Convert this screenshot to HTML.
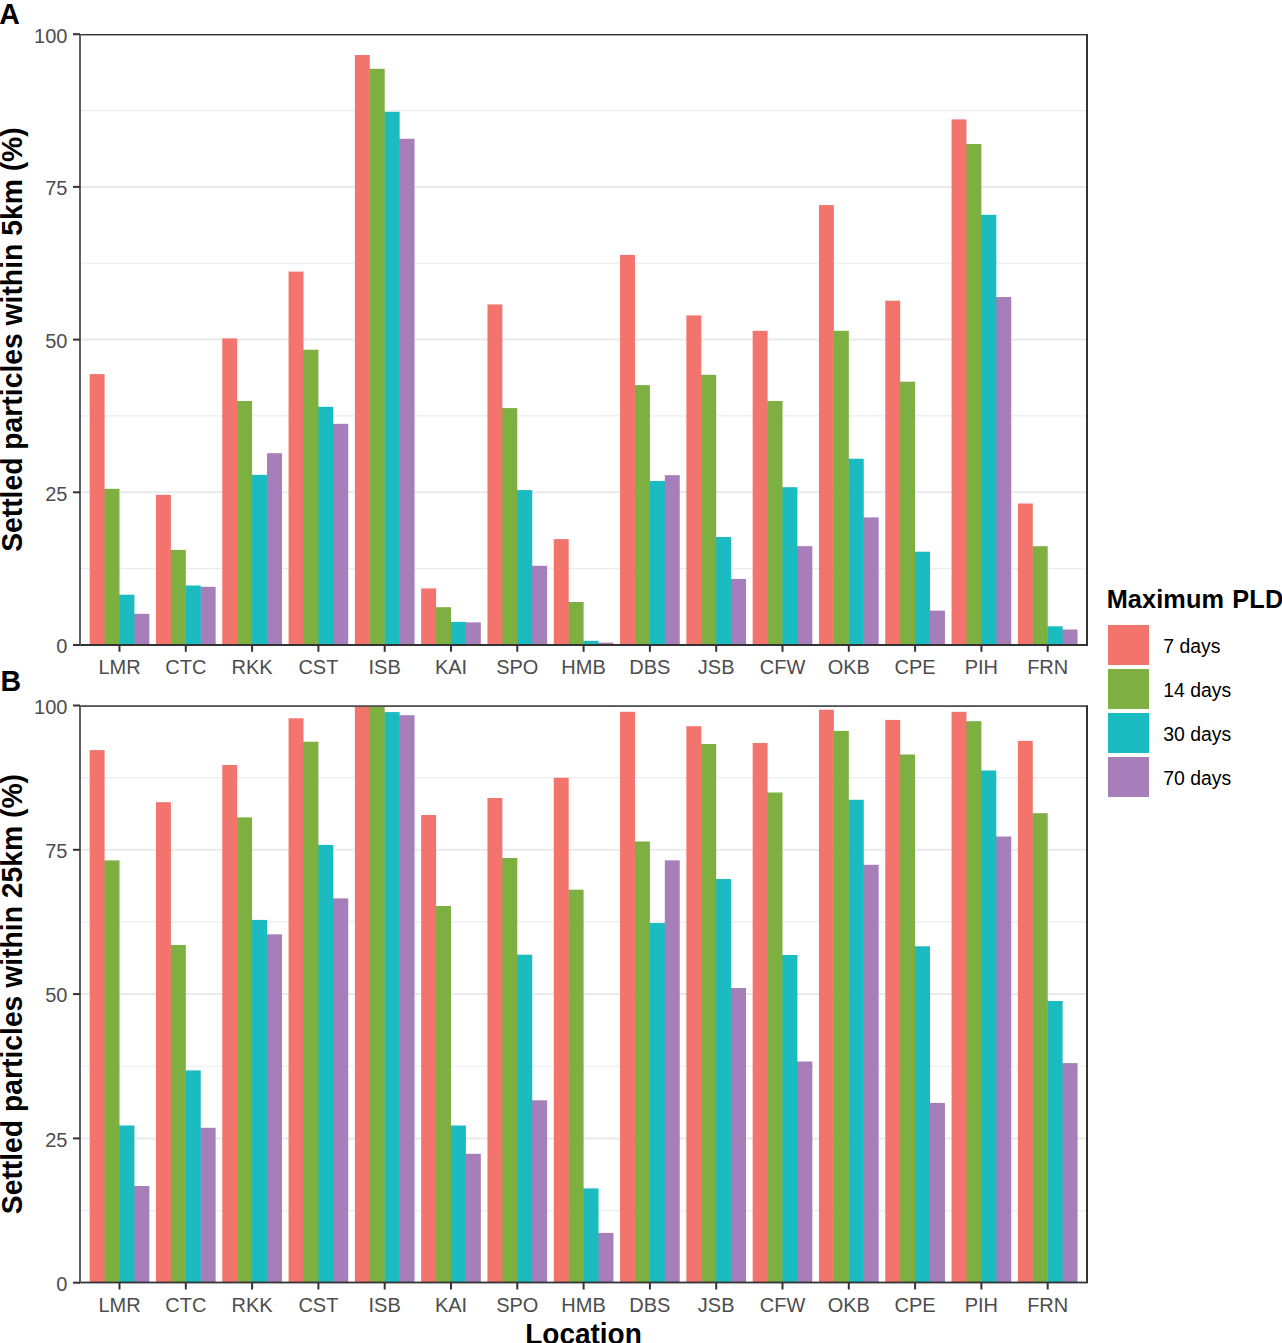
<!DOCTYPE html><html><head><meta charset="utf-8"><style>html,body{margin:0;padding:0;background:#fff;width:1282px;height:1343px;overflow:hidden}svg{display:block}text{font-family:"Liberation Sans",sans-serif}</style></head><body>
<svg width="1282" height="1343" viewBox="0 0 1282 1343">
<rect x="0" y="0" width="1282" height="1343" fill="#fff"/>
<line x1="80.0" x2="1087.0" y1="568.65" y2="568.65" stroke="#EBECED" stroke-width="1.2"/>
<line x1="80.0" x2="1087.0" y1="415.95" y2="415.95" stroke="#EBECED" stroke-width="1.2"/>
<line x1="80.0" x2="1087.0" y1="263.25" y2="263.25" stroke="#EBECED" stroke-width="1.2"/>
<line x1="80.0" x2="1087.0" y1="110.55" y2="110.55" stroke="#EBECED" stroke-width="1.2"/>
<line x1="80.0" x2="1087.0" y1="492.30" y2="492.30" stroke="#E8EAEB" stroke-width="2"/>
<line x1="80.0" x2="1087.0" y1="339.60" y2="339.60" stroke="#E8EAEB" stroke-width="2"/>
<line x1="80.0" x2="1087.0" y1="186.90" y2="186.90" stroke="#E8EAEB" stroke-width="2"/>
<rect x="133.92" y="613.80" width="15.42" height="31.20" fill="#A67EBA"/>
<rect x="119.00" y="594.70" width="15.42" height="50.30" fill="#1ABBC1"/>
<rect x="104.08" y="488.80" width="15.42" height="156.20" fill="#7EAF41"/>
<rect x="89.66" y="374.10" width="14.92" height="270.90" fill="#F3746D"/>
<rect x="200.22" y="586.80" width="15.42" height="58.20" fill="#A67EBA"/>
<rect x="185.30" y="585.50" width="15.42" height="59.50" fill="#1ABBC1"/>
<rect x="170.38" y="549.90" width="15.42" height="95.10" fill="#7EAF41"/>
<rect x="155.97" y="494.80" width="14.92" height="150.20" fill="#F3746D"/>
<rect x="251.60" y="474.90" width="15.92" height="170.10" fill="#1ABBC1"/>
<rect x="267.02" y="453.20" width="14.92" height="191.80" fill="#A67EBA"/>
<rect x="236.68" y="401.00" width="15.42" height="244.00" fill="#7EAF41"/>
<rect x="222.26" y="338.40" width="14.92" height="306.60" fill="#F3746D"/>
<rect x="332.82" y="423.80" width="15.42" height="221.20" fill="#A67EBA"/>
<rect x="317.90" y="406.80" width="15.42" height="238.20" fill="#1ABBC1"/>
<rect x="302.98" y="349.70" width="15.42" height="295.30" fill="#7EAF41"/>
<rect x="288.56" y="271.60" width="14.92" height="373.40" fill="#F3746D"/>
<rect x="399.12" y="138.80" width="15.42" height="506.20" fill="#A67EBA"/>
<rect x="384.20" y="111.80" width="15.42" height="533.20" fill="#1ABBC1"/>
<rect x="369.28" y="68.80" width="15.42" height="576.20" fill="#7EAF41"/>
<rect x="354.87" y="55.00" width="14.92" height="590.00" fill="#F3746D"/>
<rect x="465.42" y="622.40" width="15.42" height="22.60" fill="#A67EBA"/>
<rect x="450.50" y="621.90" width="15.42" height="23.10" fill="#1ABBC1"/>
<rect x="435.58" y="607.20" width="15.42" height="37.80" fill="#7EAF41"/>
<rect x="421.17" y="588.40" width="14.92" height="56.60" fill="#F3746D"/>
<rect x="531.72" y="565.80" width="15.42" height="79.20" fill="#A67EBA"/>
<rect x="516.80" y="490.10" width="15.42" height="154.90" fill="#1ABBC1"/>
<rect x="501.88" y="408.10" width="15.42" height="236.90" fill="#7EAF41"/>
<rect x="487.46" y="304.40" width="14.92" height="340.60" fill="#F3746D"/>
<rect x="598.02" y="642.60" width="15.42" height="2.40" fill="#A67EBA"/>
<rect x="583.10" y="640.80" width="15.42" height="4.20" fill="#1ABBC1"/>
<rect x="568.18" y="602.00" width="15.42" height="43.00" fill="#7EAF41"/>
<rect x="553.76" y="539.10" width="14.92" height="105.90" fill="#F3746D"/>
<rect x="649.40" y="481.00" width="15.92" height="164.00" fill="#1ABBC1"/>
<rect x="664.82" y="475.20" width="14.92" height="169.80" fill="#A67EBA"/>
<rect x="634.48" y="385.10" width="15.42" height="259.90" fill="#7EAF41"/>
<rect x="620.06" y="254.90" width="14.92" height="390.10" fill="#F3746D"/>
<rect x="730.62" y="578.90" width="15.42" height="66.10" fill="#A67EBA"/>
<rect x="715.70" y="537.00" width="15.42" height="108.00" fill="#1ABBC1"/>
<rect x="700.78" y="374.80" width="15.42" height="270.20" fill="#7EAF41"/>
<rect x="686.36" y="315.40" width="14.92" height="329.60" fill="#F3746D"/>
<rect x="796.92" y="546.20" width="15.42" height="98.80" fill="#A67EBA"/>
<rect x="782.00" y="487.20" width="15.42" height="157.80" fill="#1ABBC1"/>
<rect x="767.08" y="401.00" width="15.42" height="244.00" fill="#7EAF41"/>
<rect x="752.66" y="330.80" width="14.92" height="314.20" fill="#F3746D"/>
<rect x="863.22" y="517.40" width="15.42" height="127.60" fill="#A67EBA"/>
<rect x="848.30" y="458.70" width="15.42" height="186.30" fill="#1ABBC1"/>
<rect x="833.38" y="330.80" width="15.42" height="314.20" fill="#7EAF41"/>
<rect x="818.96" y="205.10" width="14.92" height="439.90" fill="#F3746D"/>
<rect x="929.52" y="610.60" width="15.42" height="34.40" fill="#A67EBA"/>
<rect x="914.60" y="551.70" width="15.42" height="93.30" fill="#1ABBC1"/>
<rect x="899.68" y="381.70" width="15.42" height="263.30" fill="#7EAF41"/>
<rect x="885.26" y="300.70" width="14.92" height="344.30" fill="#F3746D"/>
<rect x="995.82" y="297.00" width="15.42" height="348.00" fill="#A67EBA"/>
<rect x="980.90" y="214.80" width="15.42" height="430.20" fill="#1ABBC1"/>
<rect x="965.98" y="144.00" width="15.42" height="501.00" fill="#7EAF41"/>
<rect x="951.56" y="119.40" width="14.92" height="525.60" fill="#F3746D"/>
<rect x="1062.12" y="629.50" width="15.42" height="15.50" fill="#A67EBA"/>
<rect x="1047.20" y="626.30" width="15.42" height="18.70" fill="#1ABBC1"/>
<rect x="1032.28" y="546.20" width="15.42" height="98.80" fill="#7EAF41"/>
<rect x="1017.86" y="503.50" width="14.92" height="141.50" fill="#F3746D"/>
<rect x="79" y="34" width="1009" height="1.4" fill="#333"/>
<rect x="79" y="644" width="1009" height="2" fill="#333"/>
<rect x="79" y="34.2" width="2" height="610.80" fill="#606060"/>
<rect x="1086" y="34.2" width="2" height="610.80" fill="#333"/>
<line x1="73" x2="80.0" y1="645.00" y2="645.00" stroke="#333333" stroke-width="2"/>
<text x="67.4" y="653.30" font-size="20" fill="#4D4D4D" text-anchor="end">0</text>
<line x1="73" x2="80.0" y1="492.30" y2="492.30" stroke="#333333" stroke-width="2"/>
<text x="67.4" y="500.60" font-size="20" fill="#4D4D4D" text-anchor="end">25</text>
<line x1="73" x2="80.0" y1="339.60" y2="339.60" stroke="#333333" stroke-width="2"/>
<text x="67.4" y="347.90" font-size="20" fill="#4D4D4D" text-anchor="end">50</text>
<line x1="73" x2="80.0" y1="186.90" y2="186.90" stroke="#333333" stroke-width="2"/>
<text x="67.4" y="195.20" font-size="20" fill="#4D4D4D" text-anchor="end">75</text>
<line x1="73" x2="80.0" y1="34.20" y2="34.20" stroke="#333333" stroke-width="2"/>
<text x="67.4" y="42.50" font-size="20" fill="#4D4D4D" text-anchor="end">100</text>
<line x1="119.50" x2="119.50" y1="645.0" y2="651.80" stroke="#333333" stroke-width="2"/>
<text x="119.50" y="674.00" font-size="20" fill="#4D4D4D" text-anchor="middle">LMR</text>
<line x1="185.80" x2="185.80" y1="645.0" y2="651.80" stroke="#333333" stroke-width="2"/>
<text x="185.80" y="674.00" font-size="20" fill="#4D4D4D" text-anchor="middle">CTC</text>
<line x1="252.10" x2="252.10" y1="645.0" y2="651.80" stroke="#333333" stroke-width="2"/>
<text x="252.10" y="674.00" font-size="20" fill="#4D4D4D" text-anchor="middle">RKK</text>
<line x1="318.40" x2="318.40" y1="645.0" y2="651.80" stroke="#333333" stroke-width="2"/>
<text x="318.40" y="674.00" font-size="20" fill="#4D4D4D" text-anchor="middle">CST</text>
<line x1="384.70" x2="384.70" y1="645.0" y2="651.80" stroke="#333333" stroke-width="2"/>
<text x="384.70" y="674.00" font-size="20" fill="#4D4D4D" text-anchor="middle">ISB</text>
<line x1="451.00" x2="451.00" y1="645.0" y2="651.80" stroke="#333333" stroke-width="2"/>
<text x="451.00" y="674.00" font-size="20" fill="#4D4D4D" text-anchor="middle">KAI</text>
<line x1="517.30" x2="517.30" y1="645.0" y2="651.80" stroke="#333333" stroke-width="2"/>
<text x="517.30" y="674.00" font-size="20" fill="#4D4D4D" text-anchor="middle">SPO</text>
<line x1="583.60" x2="583.60" y1="645.0" y2="651.80" stroke="#333333" stroke-width="2"/>
<text x="583.60" y="674.00" font-size="20" fill="#4D4D4D" text-anchor="middle">HMB</text>
<line x1="649.90" x2="649.90" y1="645.0" y2="651.80" stroke="#333333" stroke-width="2"/>
<text x="649.90" y="674.00" font-size="20" fill="#4D4D4D" text-anchor="middle">DBS</text>
<line x1="716.20" x2="716.20" y1="645.0" y2="651.80" stroke="#333333" stroke-width="2"/>
<text x="716.20" y="674.00" font-size="20" fill="#4D4D4D" text-anchor="middle">JSB</text>
<line x1="782.50" x2="782.50" y1="645.0" y2="651.80" stroke="#333333" stroke-width="2"/>
<text x="782.50" y="674.00" font-size="20" fill="#4D4D4D" text-anchor="middle">CFW</text>
<line x1="848.80" x2="848.80" y1="645.0" y2="651.80" stroke="#333333" stroke-width="2"/>
<text x="848.80" y="674.00" font-size="20" fill="#4D4D4D" text-anchor="middle">OKB</text>
<line x1="915.10" x2="915.10" y1="645.0" y2="651.80" stroke="#333333" stroke-width="2"/>
<text x="915.10" y="674.00" font-size="20" fill="#4D4D4D" text-anchor="middle">CPE</text>
<line x1="981.40" x2="981.40" y1="645.0" y2="651.80" stroke="#333333" stroke-width="2"/>
<text x="981.40" y="674.00" font-size="20" fill="#4D4D4D" text-anchor="middle">PIH</text>
<line x1="1047.70" x2="1047.70" y1="645.0" y2="651.80" stroke="#333333" stroke-width="2"/>
<text x="1047.70" y="674.00" font-size="20" fill="#4D4D4D" text-anchor="middle">FRN</text>
<text transform="translate(21.6,339.60) rotate(-90) scale(1,1.02)" font-size="28.3" font-weight="bold" fill="#000" text-anchor="middle">Settled particles within 5km (%)</text>
<text transform="translate(-0.8,24.1) scale(1,1.04)" font-size="28.5" font-weight="bold" fill="#000">A</text>
<line x1="80.0" x2="1087.0" y1="1210.55" y2="1210.55" stroke="#EBECED" stroke-width="1.2"/>
<line x1="80.0" x2="1087.0" y1="1066.25" y2="1066.25" stroke="#EBECED" stroke-width="1.2"/>
<line x1="80.0" x2="1087.0" y1="921.95" y2="921.95" stroke="#EBECED" stroke-width="1.2"/>
<line x1="80.0" x2="1087.0" y1="777.65" y2="777.65" stroke="#EBECED" stroke-width="1.2"/>
<line x1="80.0" x2="1087.0" y1="1138.40" y2="1138.40" stroke="#E8EAEB" stroke-width="2"/>
<line x1="80.0" x2="1087.0" y1="994.10" y2="994.10" stroke="#E8EAEB" stroke-width="2"/>
<line x1="80.0" x2="1087.0" y1="849.80" y2="849.80" stroke="#E8EAEB" stroke-width="2"/>
<rect x="133.92" y="1186.00" width="15.42" height="96.70" fill="#A67EBA"/>
<rect x="119.00" y="1125.50" width="15.42" height="157.20" fill="#1ABBC1"/>
<rect x="104.08" y="860.40" width="15.42" height="422.30" fill="#7EAF41"/>
<rect x="89.66" y="750.10" width="14.92" height="532.60" fill="#F3746D"/>
<rect x="200.22" y="1127.80" width="15.42" height="154.90" fill="#A67EBA"/>
<rect x="185.30" y="1070.40" width="15.42" height="212.30" fill="#1ABBC1"/>
<rect x="170.38" y="945.00" width="15.42" height="337.70" fill="#7EAF41"/>
<rect x="155.97" y="802.20" width="14.92" height="480.50" fill="#F3746D"/>
<rect x="266.52" y="934.30" width="15.42" height="348.40" fill="#A67EBA"/>
<rect x="251.60" y="919.90" width="15.42" height="362.80" fill="#1ABBC1"/>
<rect x="236.68" y="817.40" width="15.42" height="465.30" fill="#7EAF41"/>
<rect x="222.26" y="765.00" width="14.92" height="517.70" fill="#F3746D"/>
<rect x="332.82" y="898.40" width="15.42" height="384.30" fill="#A67EBA"/>
<rect x="317.90" y="844.90" width="15.42" height="437.80" fill="#1ABBC1"/>
<rect x="302.98" y="741.70" width="15.42" height="541.00" fill="#7EAF41"/>
<rect x="288.56" y="718.30" width="14.92" height="564.40" fill="#F3746D"/>
<rect x="399.12" y="715.20" width="15.42" height="567.50" fill="#A67EBA"/>
<rect x="384.20" y="712.10" width="15.42" height="570.60" fill="#1ABBC1"/>
<rect x="354.87" y="706.60" width="15.42" height="576.10" fill="#F3746D"/>
<rect x="369.28" y="706.60" width="15.42" height="576.10" fill="#7EAF41"/>
<rect x="465.42" y="1153.80" width="15.42" height="128.90" fill="#A67EBA"/>
<rect x="450.50" y="1125.50" width="15.42" height="157.20" fill="#1ABBC1"/>
<rect x="435.58" y="906.00" width="15.42" height="376.70" fill="#7EAF41"/>
<rect x="421.17" y="815.00" width="14.92" height="467.70" fill="#F3746D"/>
<rect x="531.72" y="1100.30" width="15.42" height="182.40" fill="#A67EBA"/>
<rect x="516.80" y="954.70" width="15.42" height="328.00" fill="#1ABBC1"/>
<rect x="501.88" y="858.00" width="15.42" height="424.70" fill="#7EAF41"/>
<rect x="487.46" y="798.00" width="14.92" height="484.70" fill="#F3746D"/>
<rect x="598.02" y="1232.90" width="15.42" height="49.80" fill="#A67EBA"/>
<rect x="583.10" y="1188.40" width="15.42" height="94.30" fill="#1ABBC1"/>
<rect x="568.18" y="889.70" width="15.42" height="393.00" fill="#7EAF41"/>
<rect x="553.76" y="777.80" width="14.92" height="504.90" fill="#F3746D"/>
<rect x="649.40" y="923.00" width="15.92" height="359.70" fill="#1ABBC1"/>
<rect x="664.82" y="860.40" width="14.92" height="422.30" fill="#A67EBA"/>
<rect x="634.48" y="841.50" width="15.42" height="441.20" fill="#7EAF41"/>
<rect x="620.06" y="711.80" width="14.92" height="570.90" fill="#F3746D"/>
<rect x="730.62" y="988.00" width="15.42" height="294.70" fill="#A67EBA"/>
<rect x="715.70" y="879.00" width="15.42" height="403.70" fill="#1ABBC1"/>
<rect x="700.78" y="744.00" width="15.42" height="538.70" fill="#7EAF41"/>
<rect x="686.36" y="726.20" width="14.92" height="556.50" fill="#F3746D"/>
<rect x="796.92" y="1061.50" width="15.42" height="221.20" fill="#A67EBA"/>
<rect x="782.00" y="955.00" width="15.42" height="327.70" fill="#1ABBC1"/>
<rect x="767.08" y="792.50" width="15.42" height="490.20" fill="#7EAF41"/>
<rect x="752.66" y="743.00" width="14.92" height="539.70" fill="#F3746D"/>
<rect x="863.22" y="864.80" width="15.42" height="417.90" fill="#A67EBA"/>
<rect x="848.30" y="799.80" width="15.42" height="482.90" fill="#1ABBC1"/>
<rect x="833.38" y="730.90" width="15.42" height="551.80" fill="#7EAF41"/>
<rect x="818.96" y="709.70" width="14.92" height="573.00" fill="#F3746D"/>
<rect x="929.52" y="1102.90" width="15.42" height="179.80" fill="#A67EBA"/>
<rect x="914.60" y="946.30" width="15.42" height="336.40" fill="#1ABBC1"/>
<rect x="899.68" y="754.50" width="15.42" height="528.20" fill="#7EAF41"/>
<rect x="885.26" y="719.90" width="14.92" height="562.80" fill="#F3746D"/>
<rect x="995.82" y="836.50" width="15.42" height="446.20" fill="#A67EBA"/>
<rect x="980.90" y="770.50" width="15.42" height="512.20" fill="#1ABBC1"/>
<rect x="965.98" y="721.20" width="15.42" height="561.50" fill="#7EAF41"/>
<rect x="951.56" y="711.80" width="14.92" height="570.90" fill="#F3746D"/>
<rect x="1062.12" y="1063.10" width="15.42" height="219.60" fill="#A67EBA"/>
<rect x="1047.20" y="1001.00" width="15.42" height="281.70" fill="#1ABBC1"/>
<rect x="1032.28" y="813.20" width="15.42" height="469.50" fill="#7EAF41"/>
<rect x="1017.86" y="740.90" width="14.92" height="541.80" fill="#F3746D"/>
<rect x="79" y="705.2" width="1009" height="1.8" fill="#505050"/>
<rect x="79" y="1281.6" width="1009" height="1.8" fill="#333"/>
<rect x="79" y="705.5" width="2" height="577.20" fill="#606060"/>
<rect x="1086" y="705.5" width="2" height="577.20" fill="#333"/>
<line x1="73" x2="80.0" y1="1282.70" y2="1282.70" stroke="#333333" stroke-width="2"/>
<text x="67.4" y="1291.00" font-size="20" fill="#4D4D4D" text-anchor="end">0</text>
<line x1="73" x2="80.0" y1="1138.40" y2="1138.40" stroke="#333333" stroke-width="2"/>
<text x="67.4" y="1146.70" font-size="20" fill="#4D4D4D" text-anchor="end">25</text>
<line x1="73" x2="80.0" y1="994.10" y2="994.10" stroke="#333333" stroke-width="2"/>
<text x="67.4" y="1002.40" font-size="20" fill="#4D4D4D" text-anchor="end">50</text>
<line x1="73" x2="80.0" y1="849.80" y2="849.80" stroke="#333333" stroke-width="2"/>
<text x="67.4" y="858.10" font-size="20" fill="#4D4D4D" text-anchor="end">75</text>
<line x1="73" x2="80.0" y1="705.50" y2="705.50" stroke="#333333" stroke-width="2"/>
<text x="67.4" y="713.80" font-size="20" fill="#4D4D4D" text-anchor="end">100</text>
<line x1="119.50" x2="119.50" y1="1282.7" y2="1289.50" stroke="#333333" stroke-width="2"/>
<text x="119.50" y="1311.90" font-size="20" fill="#4D4D4D" text-anchor="middle">LMR</text>
<line x1="185.80" x2="185.80" y1="1282.7" y2="1289.50" stroke="#333333" stroke-width="2"/>
<text x="185.80" y="1311.90" font-size="20" fill="#4D4D4D" text-anchor="middle">CTC</text>
<line x1="252.10" x2="252.10" y1="1282.7" y2="1289.50" stroke="#333333" stroke-width="2"/>
<text x="252.10" y="1311.90" font-size="20" fill="#4D4D4D" text-anchor="middle">RKK</text>
<line x1="318.40" x2="318.40" y1="1282.7" y2="1289.50" stroke="#333333" stroke-width="2"/>
<text x="318.40" y="1311.90" font-size="20" fill="#4D4D4D" text-anchor="middle">CST</text>
<line x1="384.70" x2="384.70" y1="1282.7" y2="1289.50" stroke="#333333" stroke-width="2"/>
<text x="384.70" y="1311.90" font-size="20" fill="#4D4D4D" text-anchor="middle">ISB</text>
<line x1="451.00" x2="451.00" y1="1282.7" y2="1289.50" stroke="#333333" stroke-width="2"/>
<text x="451.00" y="1311.90" font-size="20" fill="#4D4D4D" text-anchor="middle">KAI</text>
<line x1="517.30" x2="517.30" y1="1282.7" y2="1289.50" stroke="#333333" stroke-width="2"/>
<text x="517.30" y="1311.90" font-size="20" fill="#4D4D4D" text-anchor="middle">SPO</text>
<line x1="583.60" x2="583.60" y1="1282.7" y2="1289.50" stroke="#333333" stroke-width="2"/>
<text x="583.60" y="1311.90" font-size="20" fill="#4D4D4D" text-anchor="middle">HMB</text>
<line x1="649.90" x2="649.90" y1="1282.7" y2="1289.50" stroke="#333333" stroke-width="2"/>
<text x="649.90" y="1311.90" font-size="20" fill="#4D4D4D" text-anchor="middle">DBS</text>
<line x1="716.20" x2="716.20" y1="1282.7" y2="1289.50" stroke="#333333" stroke-width="2"/>
<text x="716.20" y="1311.90" font-size="20" fill="#4D4D4D" text-anchor="middle">JSB</text>
<line x1="782.50" x2="782.50" y1="1282.7" y2="1289.50" stroke="#333333" stroke-width="2"/>
<text x="782.50" y="1311.90" font-size="20" fill="#4D4D4D" text-anchor="middle">CFW</text>
<line x1="848.80" x2="848.80" y1="1282.7" y2="1289.50" stroke="#333333" stroke-width="2"/>
<text x="848.80" y="1311.90" font-size="20" fill="#4D4D4D" text-anchor="middle">OKB</text>
<line x1="915.10" x2="915.10" y1="1282.7" y2="1289.50" stroke="#333333" stroke-width="2"/>
<text x="915.10" y="1311.90" font-size="20" fill="#4D4D4D" text-anchor="middle">CPE</text>
<line x1="981.40" x2="981.40" y1="1282.7" y2="1289.50" stroke="#333333" stroke-width="2"/>
<text x="981.40" y="1311.90" font-size="20" fill="#4D4D4D" text-anchor="middle">PIH</text>
<line x1="1047.70" x2="1047.70" y1="1282.7" y2="1289.50" stroke="#333333" stroke-width="2"/>
<text x="1047.70" y="1311.90" font-size="20" fill="#4D4D4D" text-anchor="middle">FRN</text>
<text transform="translate(21.6,994.10) rotate(-90) scale(1,1.02)" font-size="28.3" font-weight="bold" fill="#000" text-anchor="middle">Settled particles within 25km (%)</text>
<text transform="translate(0.5,690.9) scale(1,1.06)" font-size="28.5" font-weight="bold" fill="#000">B</text>
<text transform="translate(583.5,1344.2) scale(1,1.03)" font-size="28" font-weight="bold" fill="#000" text-anchor="middle">Location</text>
<text transform="translate(1106.7,607.6) scale(1,1.03)" font-size="25.3" font-weight="bold" fill="#000" letter-spacing="0.1" word-spacing="1.2">Maximum PLD</text>
<rect x="1108" y="625" width="41" height="40" fill="#F3746D"/>
<text transform="translate(1163.3,653.2) scale(1,1.07)" font-size="19.4" fill="#000">7 days</text>
<rect x="1108" y="669" width="41" height="40" fill="#7EAF41"/>
<text transform="translate(1163.3,697.2) scale(1,1.07)" font-size="19.4" fill="#000">14 days</text>
<rect x="1108" y="713" width="41" height="40" fill="#1ABBC1"/>
<text transform="translate(1163.3,741.2) scale(1,1.07)" font-size="19.4" fill="#000">30 days</text>
<rect x="1108" y="757" width="41" height="40" fill="#A67EBA"/>
<text transform="translate(1163.3,785.2) scale(1,1.07)" font-size="19.4" fill="#000">70 days</text>
</svg></body></html>
